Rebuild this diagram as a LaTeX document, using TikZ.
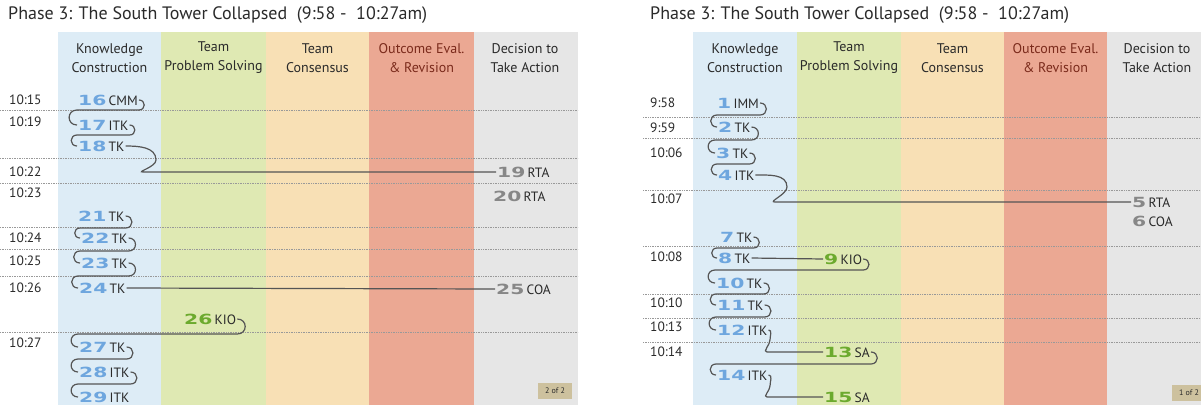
\documentclass[tikz,border=0pt]{standalone}
\usepackage{fontspec}
\usepackage{graphicx}
\setmainfont{PT Sans}
\newfontfamily\numfont{DejaVu Sans}
\usepackage{tikz}
\usetikzlibrary{backgrounds}
\definecolor{kcol}{HTML}{DDECF6}
\definecolor{pcol}{HTML}{DFE9B3}
\definecolor{ccol}{HTML}{F8E0B5}
\definecolor{ocol}{HTML}{EBA893}
\definecolor{dcol}{HTML}{E6E6E6}
\definecolor{kblue}{HTML}{6EA6DE}
\definecolor{pgreen}{HTML}{6CAA2E}
\definecolor{dgray}{HTML}{878787}
\definecolor{ink}{HTML}{2A2A2A}
\definecolor{ored}{HTML}{7B2B1C}
\definecolor{wirec}{HTML}{555555}
\definecolor{tag}{HTML}{CDC19E}
\newcommand{\knum}[2]{\textcolor{#1}{\scalebox{1.45}[1]{\fontsize{14}{14}\selectfont\numfont\bfseries #2}}}
\newcommand{\curlto}[3]{
  \draw[wire] (#1.east) to[out=0,in=0,looseness=1.8] (#1.east |- 0,#3) -- (#2.west |- 0,#3) to[out=180,in=180,looseness=1.8] (#2.west);
}
\newcommand{\dropto}[5]{
  \draw[wire] (#1.east) to[out=0,in=90] (#3,#4) to[out=-90,in=180] (#5,0 |- #2.west) -- (#2.west);
}
\tikzset{
  ev/.style={anchor=west, inner sep=1pt, font=\fontsize{13.5}{13.5}\selectfont, text=ink},
  tm/.style={anchor=west, inner sep=0pt, font=\fontsize{13.5}{13.5}\selectfont, text=ink},
  hdr/.style={align=center, font=\fontsize{14}{19}\selectfont, text=ink},
  ttl/.style={anchor=west, inner sep=0pt, font=\fontsize{18}{18}\selectfont, text=ink},
  timeline/.style={densely dotted, draw=gray!80, line width=0.7pt},
  wire/.style={draw=wirec, line width=1.2pt},
  tagbox/.style={fill=tag, minimum width=34pt, minimum height=16pt, inner sep=0pt, font=\fontsize{8}{8}\selectfont, text=ink}
}
\begin{document}
\begin{tikzpicture}[x=1pt, y=-1pt]
    \clip (0,0) rectangle (1201,405);
    \begin{scope}[on background layer]
        \fill[kcol] (58,32) rectangle (161,405);
        \fill[pcol] (161,32) rectangle (266,405);
        \fill[ccol] (266,32) rectangle (369,405);
        \fill[ocol] (369,32) rectangle (474,405);
        \fill[dcol] (474,32) rectangle (578,405);
        \fill[kcol] (693,32) rectangle (797,405);
        \fill[pcol] (797,32) rectangle (901,405);
        \fill[ccol] (901,32) rectangle (1004,405);
        \fill[ocol] (1004,32) rectangle (1107,405);
        \fill[dcol] (1107,32) rectangle (1201,405);
    \end{scope}

    \node[ttl] (t1) at (8,15) {Phase 3: The South Tower Collapsed\ \ (9:58 -\ \ 10:27am)};
    \node[ttl] (t2) at (650,15) {Phase 3: The South Tower Collapsed\ \ (9:58 -\ \ 10:27am)};

    \node[hdr] (h1) at (109.5,58) {Knowledge\\Construction};
    \node[hdr] (h2) at (213.5,58) {Team\\Problem Solving};
    \node[hdr] (h3) at (317.5,58) {Team\\Consensus};
    \node[hdr, text=ored] (h4) at (421.5,58) {Outcome Eval.\\\& Revision};
    \node[hdr] (h5) at (525,58) {Decision to\\Take Action};
    \node[hdr] (h6) at (745,58) {Knowledge\\Construction};
    \node[hdr] (h7) at (849,58) {Team\\Problem Solving};
    \node[hdr] (h8) at (952.5,58) {Team\\Consensus};
    \node[hdr, text=ored] (h9) at (1055.5,58) {Outcome Eval.\\\& Revision};
    \node[hdr] (h10) at (1157,58) {Decision to\\Take Action};

    \draw[timeline] (0,110) -- (578,110);
    \draw[timeline] (0,158) -- (578,158);
    \draw[timeline] (0,183) -- (578,183);
    \draw[timeline] (0,227) -- (578,227);
    \draw[timeline] (0,249) -- (578,249);
    \draw[timeline] (0,276) -- (578,276);
    \draw[timeline] (0,332) -- (578,332);
    \draw[timeline] (643,117) -- (1201,117);
    \draw[timeline] (643,138) -- (1201,138);
    \draw[timeline] (643,190) -- (1201,190);
    \draw[timeline] (643,246) -- (1201,246);
    \draw[timeline] (643,294) -- (1201,294);
    \draw[timeline] (643,318) -- (1201,318);
    \draw[timeline] (643,342) -- (1201,342);

    \node[tm] (m1) at (9,100) {10:15};
    \node[tm] (m2) at (9,122) {10:19};
    \node[tm] (m3) at (9,172) {10:22};
    \node[tm] (m4) at (9,193) {10:23};
    \node[tm] (m5) at (9,238) {10:24};
    \node[tm] (m6) at (9,261) {10:25};
    \node[tm] (m7) at (9,288) {10:26};
    \node[tm] (m8) at (9,343) {10:27};
    \node[tm] (m9) at (650,103) {9:58};
    \node[tm] (m10) at (650,128) {9:59};
    \node[tm] (m11) at (650,153) {10:06};
    \node[tm] (m12) at (650,199) {10:07};
    \node[tm] (m13) at (650,257) {10:08};
    \node[tm] (m14) at (650,303) {10:10};
    \node[tm] (m15) at (650,327) {10:13};
    \node[tm] (m16) at (650,352) {10:14};

    \node[ev] (l16) at (77,100) {\knum{kblue}{16}\,CMM};
    \node[ev] (l17) at (77,125) {\knum{kblue}{17}\,ITK};
    \node[ev] (l18) at (77,146) {\knum{kblue}{18}\,TK};
    \node[ev] (l19) at (496,172) {\knum{dgray}{19}\,RTA};
    \node[ev] (l20) at (492,196) {\knum{dgray}{20}\,RTA};
    \node[ev] (l21) at (77,216) {\knum{kblue}{21}\,TK};
    \node[ev] (l22) at (80,238) {\knum{kblue}{22}\,TK};
    \node[ev] (l23) at (80,263) {\knum{kblue}{23}\,TK};
    \node[ev] (l24) at (78,288) {\knum{kblue}{24}\,TK};
    \node[ev] (l25) at (495,289) {\knum{dgray}{25}\,COA};
    \node[ev] (l26) at (183,319) {\knum{pgreen}{26}\,KIO};
    \node[ev] (l27) at (78,347) {\knum{kblue}{27}\,TK};
    \node[ev] (l28) at (78,372) {\knum{kblue}{28}\,ITK};
    \node[ev] (l29) at (78,397) {\knum{kblue}{29}\,ITK};

    \node[ev] (r1) at (716,103) {\knum{kblue}{1}\,IMM};
    \node[ev] (r2) at (717,127) {\knum{kblue}{2}\,TK};
    \node[ev] (r3) at (715,153) {\knum{kblue}{3}\,TK};
    \node[ev] (r4) at (717,175) {\knum{kblue}{4}\,ITK};
    \node[ev] (r5) at (1131,202) {\knum{dgray}{5}\,RTA};
    \node[ev] (r6) at (1131,221) {\knum{dgray}{6}\,COA};
    \node[ev] (r7) at (719,237) {\knum{kblue}{7}\,TK};
    \node[ev] (r8) at (717,258) {\knum{kblue}{8}\,TK};
    \node[ev] (r9) at (823,259) {\knum{pgreen}{9}\,KIO};
    \node[ev] (r10) at (715,283) {\knum{kblue}{10}\,TK};
    \node[ev] (r11) at (716,305) {\knum{kblue}{11}\,TK};
    \node[ev] (r12) at (716,330) {\knum{kblue}{12}\,ITK};
    \node[ev] (r13) at (823,352) {\knum{pgreen}{13}\,SA};
    \node[ev] (r14) at (716,375) {\knum{kblue}{14}\,ITK};
    \node[ev] (r15) at (823,397) {\knum{pgreen}{15}\,SA};

    \curlto{l16}{l17}{110}
    \curlto{l17}{l18}{135}
    \dropto{l18}{l19}{156}{160}{143}
    \curlto{l21}{l22}{228}
    \curlto{l22}{l23}{251}
    \curlto{l23}{l24}{276}
    \draw[wire] (l24.east) -- (l25.west);
    \curlto{l26}{l27}{334}
    \curlto{l27}{l28}{359}
    \curlto{l28}{l29}{384}

    \curlto{r1}{r2}{115}
    \curlto{r2}{r3}{140}
    \curlto{r3}{r4}{164}
    \dropto{r4}{r5}{787}{187}{775}
    \curlto{r7}{r8}{248}
    \draw[wire] (r8.east) -- (r9.west);
    \curlto{r9}{r10}{270}
    \curlto{r10}{r11}{294}
    \curlto{r11}{r12}{317}
    \dropto{r12}{r13}{770}{340}{767}
    \curlto{r13}{r14}{364}
    \dropto{r14}{r15}{770}{386}{767}

    \node[tagbox] (p2) at (555,391) {2 of 2};
    \node[tagbox] (p1) at (1189,393) {1 of 2};
\end{tikzpicture}
\end{document}
